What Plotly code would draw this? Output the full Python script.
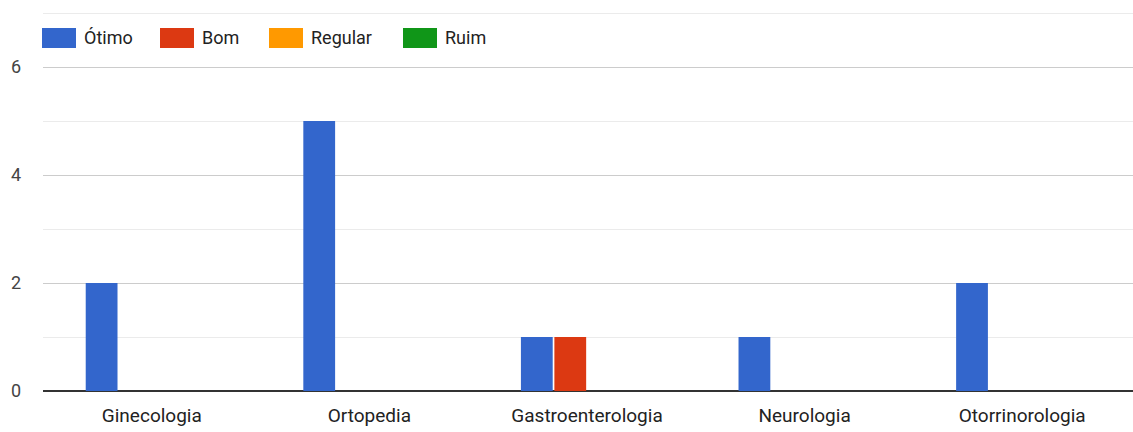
import plotly.graph_objects as go

categories = ["Ginecologia", "Ortopedia", "Gastroenterologia", "Neurologia", "Otorrinorologia"]
series_names = ["Ótimo", "Bom", "Regular", "Ruim"]
otimo = [2, 5, 1, 1, 2]
bom = [0, 0, 1, 0, 0]
regular = [0, 0, 0, 0, 0]
ruim = [0, 0, 0, 0, 0]
colors = ["#3366cc", "#dc3912", "#ff9900", "#109618"]
y_ticks = [0, 2, 4, 6]

series_values = [otimo, bom, regular, ruim]
FONT = "Roboto, Arial, sans-serif"

fig = go.Figure()
for name, vals, col in zip(series_names, series_values, colors):
    fig.add_trace(go.Bar(x=categories, y=vals, name=name, marker=dict(color=col, line=dict(width=0)),
                         showlegend=False))

W, H = 1133, 432
ml, mr, mt, mb = 43, 0, 12, 41
pw, ph = W - ml - mr, H - mt - mb

def px2paper_x(px):
    return (px - ml) / pw

def px2paper_y(py):
    return (H - mb - py) / ph

# categories span 43..1131 px; the plot area extends to the right edge
unit = (1131 - 43) / 5.0
x_max = 4.5 + (pw - 5 * unit) / unit

leg_x = [42, 160, 269, 403]
for name, col, lx in zip(series_names, colors, leg_x):
    fig.add_shape(type="rect", xref="paper", yref="paper",
                  x0=px2paper_x(lx), x1=px2paper_x(lx + 34),
                  y0=px2paper_y(48), y1=px2paper_y(28),
                  fillcolor=col, line=dict(width=0), layer="above")
    fig.add_annotation(xref="paper", yref="paper", x=px2paper_x(lx + 40), y=px2paper_y(38),
                       text=name, showarrow=False, xanchor="left", yanchor="middle",
                       font=dict(family=FONT, size=18, color="#222222"))

fig.update_layout(
    width=W, height=H,
    margin=dict(l=ml, r=mr, t=mt, b=mb, autoexpand=False),
    paper_bgcolor="white", plot_bgcolor="white",
    barmode="group", bargap=0.385, bargroupgap=0.05,
    font=dict(family=FONT, size=18, color="#222222"),
    xaxis=dict(showgrid=False, tickfont=dict(size=19, color="#222222"), ticklabelstandoff=11,
               showline=False, fixedrange=True, range=[-0.5, x_max]),
    yaxis=dict(range=[0, 7.02], tickvals=y_ticks, showgrid=True, gridcolor="#cccccc", gridwidth=1,
               minor=dict(dtick=1, tick0=1, showgrid=True, gridcolor="#ebebeb", gridwidth=1),
               zeroline=True, zerolinecolor="#333333", zerolinewidth=2,
               tickfont=dict(size=18, color="#444444"), ticklabelstandoff=21, fixedrange=True),
)
fig.write_html("out.html", config={"displayModeBar": False},
               post_script="document.body.style.margin='0';document.body.style.overflow='hidden';")
